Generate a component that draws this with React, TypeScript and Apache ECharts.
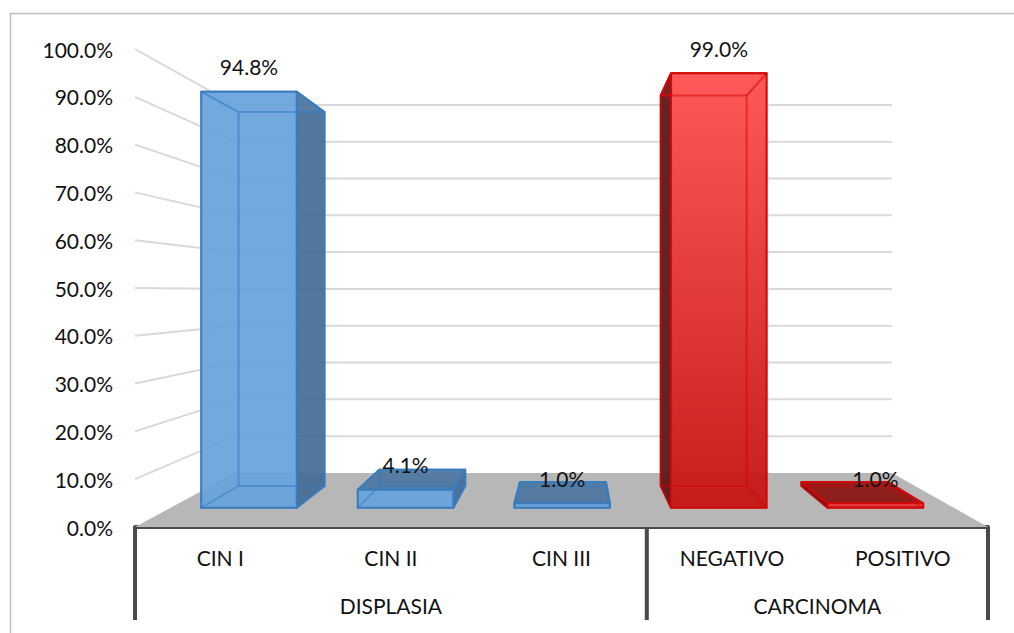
import React, { useEffect, useRef } from "react";
import * as echarts from "echarts";

const categories = ["CIN I", "CIN II", "CIN III", "NEGATIVO", "POSITIVO"];
const values = [94.8, 4.1, 1.0, 99.0, 1.0];
const valueLabels = ["94.8%", "4.1%", "1.0%", "99.0%", "1.0%"];
const groupNames = ["DISPLASIA", "CARCINOMA"];
const groupCentres = [1.5, 4];
const groupDividers = [0, 3, 5];
const barKinds = ["blue", "blue", "blue", "red", "red"];
const yTicks = [0, 10, 20, 30, 40, 50, 60, 70, 80, 90, 100];

const FONT = "Lato, 'Open Sans', sans-serif";
const VP = { x: 570, y: 292 };
const S_FRONT = 0.918;
const S_BACK = 0.825;
const S_WALL = 0.77;
const BAR_W = 0.61;

const project = (p: number[], s: number) => [VP.x + (p[0] - VP.x) * s, VP.y + (p[1] - VP.y) * s];

const palette: any = {
  blue: {
    front: "rgba(104,163,219,0.92)",
    side: "rgba(68,105,146,0.9)",
    top: "rgba(78,118,160,0.92)",
    ghost: "rgba(91,155,213,0.18)",
    edge: "#3a7dbf",
    sideEdge: "#3a7dbf",
    inner: "rgba(58,125,191,0.5)",
  },
  red: {
    front: {
      type: "linear", x: 0, y: 0, x2: 0, y2: 1,
      colorStops: [
        { offset: 0, color: "rgba(255,82,82,0.95)" },
        { offset: 1, color: "rgba(196,20,20,0.95)" },
      ],
    },
    side: "rgba(88,20,20,0.92)",
    top: "rgba(140,24,22,0.95)",
    ghost: "rgba(230,30,30,0.18)",
    edge: "#d40a0a",
    sideEdge: "#a00c0c",
    inner: "rgba(212,10,10,0.5)",
  },
};

function renderFloor(_: any, api: any) {
  const a = api.coord([0, 0]);
  const b = api.coord([5, 0]);
  return {
    type: "polygon",
    shape: { points: [a, b, project(b, S_WALL), project(a, S_WALL)] },
    style: { fill: "#b7b7b7", stroke: "none" },
  };
}

function renderWall(_: any, api: any) {
  const v = api.value(1);
  const a = api.coord([0, v]);
  const b = api.coord([5, v]);
  return {
    type: "polyline",
    shape: { points: [a, project(a, S_WALL), project(b, S_WALL)] },
    style: { fill: "none", stroke: "#d9d9d9", lineWidth: 2 },
  };
}

function renderBar(params: any, api: any) {
  const i = api.value(0);
  const v = api.value(1);
  const c = palette[barKinds[params.dataIndex]];
  const l = i + 0.5 - BAR_W / 2;
  const r = i + 0.5 + BAR_W / 2;
  const bl = api.coord([l, 0]);
  const br = api.coord([r, 0]);
  const tl = api.coord([l, v]);
  const tr = api.coord([r, v]);
  const fbl = project(bl, S_FRONT), fbr = project(br, S_FRONT), ftl = project(tl, S_FRONT), ftr = project(tr, S_FRONT);
  const kbl = project(bl, S_BACK), kbr = project(br, S_BACK), ktl = project(tl, S_BACK), ktr = project(tr, S_BACK);
  const topVisible = ktl[1] < ftl[1];
  const rightVisible = fbr[0] < VP.x;
  const face = (points: number[][], fill: any, stroke: string, lineWidth = 2) => ({
    type: "polygon",
    shape: { points },
    style: { fill, stroke, lineWidth, lineJoin: "round" },
  });
  const children: any[] = [
    face([kbl, kbr, ktr, ktl], c.ghost, c.inner),
    face([fbl, fbr, kbr, kbl], c.ghost, c.inner),
    face(rightVisible ? [kbl, fbl, ftl, ktl] : [kbr, fbr, ftr, ktr], c.ghost, c.inner),
    face(rightVisible ? [fbr, kbr, ktr, ftr] : [fbl, kbl, ktl, ftl], c.side, c.sideEdge),
    face([ftl, ftr, ktr, ktl], topVisible ? c.top : c.ghost, c.edge),
    face([fbl, fbr, ftr, ftl], c.front, c.edge),
    {
      type: "polyline",
      shape: { points: [ktl, ktr, kbr, kbl, ktl] },
      style: { fill: "none", stroke: c.inner, lineWidth: 2 },
    },
    {
      type: "line",
      shape: { x1: ftl[0], y1: ftl[1], x2: ktl[0], y2: ktl[1] },
      style: { stroke: c.inner, lineWidth: 2 },
    },
    {
      type: "line",
      shape: { x1: ftr[0], y1: ftr[1], x2: ktr[0], y2: ktr[1] },
      style: { stroke: c.inner, lineWidth: 2 },
    },
    {
      type: "line",
      shape: { x1: fbl[0], y1: fbl[1], x2: kbl[0], y2: kbl[1] },
      style: { stroke: c.inner, lineWidth: 1.5 },
    },
    {
      type: "line",
      shape: { x1: fbr[0], y1: fbr[1], x2: kbr[0], y2: kbr[1] },
      style: { stroke: c.inner, lineWidth: 1.5 },
    },
  ];
  return { type: "group", children };
}

function renderValueLabel(params: any, api: any) {
  const i = api.value(0);
  const v = api.value(1);
  const p = project(api.coord([i + 0.5, v]), S_FRONT);
  return {
    type: "text",
    x: p[0],
    y: p[1] - 25,
    style: {
      text: valueLabels[params.dataIndex],
      fill: "#111",
      font: `21px ${FONT}`,
      align: "center",
      verticalAlign: "middle",
    },
  };
}

function renderGroup(params: any, api: any) {
  const p = api.coord([api.value(0), 0]);
  return {
    type: "text",
    x: p[0],
    y: p[1] + 78,
    style: {
      text: groupNames[params.dataIndex],
      fill: "#111",
      font: `21px ${FONT}`,
      align: "center",
      verticalAlign: "middle",
    },
  };
}

function renderDivider(_: any, api: any) {
  const p = api.coord([api.value(0), 0]);
  return {
    type: "line",
    shape: { x1: p[0], y1: p[1], x2: p[0], y2: p[1] + 93 },
    style: { stroke: "#4a4a4a", lineWidth: 4 },
  };
}

export default function App() {
  const ref = useRef<HTMLDivElement>(null);
  useEffect(() => {
    const chart = echarts.init(ref.current!, undefined, { renderer: "svg" });
    const base = { type: "custom", xAxisIndex: 1, yAxisIndex: 0, silent: true, clip: false };
    chart.setOption({
      animation: false,
      backgroundColor: "#fff",
      graphic: [
        {
          type: "rect",
          silent: true,
          z: -1,
          shape: { x: 10.5, y: 13.5, width: 1100, height: 1100 },
          style: { fill: "none", stroke: "#bfbfbf", lineWidth: 1.5 },
        },
      ],
      grid: { left: 135, top: 49, width: 853, height: 478 },
      xAxis: [
        {
          type: "category",
          data: categories,
          axisLine: { show: true, lineStyle: { color: "#4a4a4a", width: 4 } },
          axisTick: { show: false },
          axisLabel: { color: "#111", fontFamily: FONT, fontSize: 21, margin: 20 },
        },
        { type: "value", min: 0, max: 5, show: false },
      ],
      yAxis: {
        type: "value",
        min: 0,
        max: 100,
        interval: 10,
        axisLine: { show: false },
        axisTick: { show: false },
        splitLine: { show: false },
        axisLabel: {
          color: "#111",
          fontFamily: FONT,
          fontSize: 21,
          margin: 22,
          formatter: (v: number) => `${v.toFixed(1)}%`,
        },
      },
      series: [
        { ...base, z: 1, data: [[0, 0]], renderItem: renderFloor },
        { ...base, z: 2, data: yTicks.slice(1).map((t) => [0, t]), renderItem: renderWall },
        { ...base, z: 3, data: values.map((v, i) => [i, v]), renderItem: renderBar },
        { ...base, z: 4, data: values.map((v, i) => [i, v]), renderItem: renderValueLabel },
        { ...base, z: 4, data: groupCentres.map((c) => [c, 0]), renderItem: renderGroup },
        { ...base, z: 4, data: groupDividers.map((c) => [c, 0]), renderItem: renderDivider },
      ],
    });
    return () => chart.dispose();
  }, []);
  return <div ref={ref} style={{ position: "fixed", left: 0, top: 0, width: 1014, height: 633 }} />;
}
